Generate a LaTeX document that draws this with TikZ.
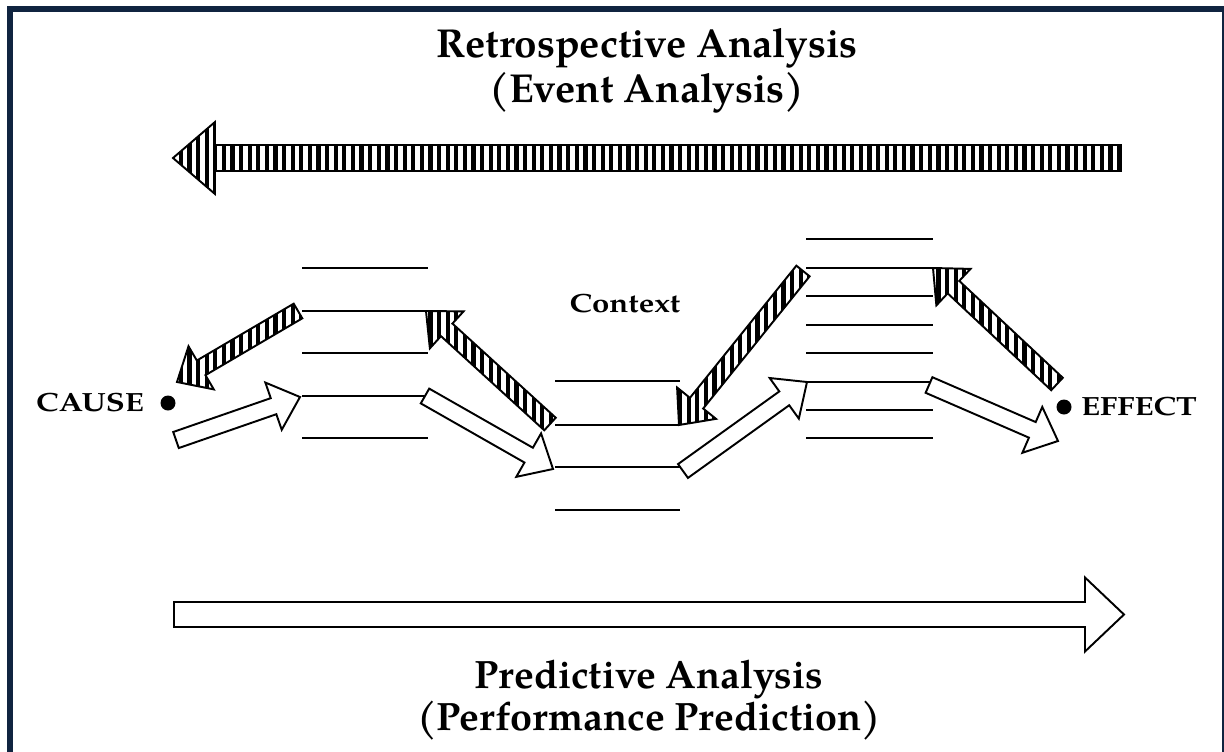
\documentclass[tikz,border=0pt]{standalone}
\usepackage{fontspec}
\setmainfont{TeX Gyre Pagella}
\newfontfamily\labelfont{TeX Gyre Pagella}[FakeStretch=1.18]
\usetikzlibrary{calc,patterns.meta}

% block arrow: [style]{tail}{tip}{shaft half width}{head half width}{head length}, sizes in px
\newcommand{\blockarrow}[6][]{%
  \path (#2) coordinate (ba-tail) (#3) coordinate (ba-tip)
    ($(ba-tip)!#6*0.02cm!(ba-tail)$) coordinate (ba-base);
  \draw[#1] ($(ba-tail)!#4*0.02cm!90:(ba-tip)$)
    -- ($(ba-base)!#4*0.02cm!90:(ba-tip)$)
    -- ($(ba-base)!#5*0.02cm!90:(ba-tip)$)
    -- (ba-tip)
    -- ($(ba-base)!#5*0.02cm!-90:(ba-tip)$)
    -- ($(ba-base)!#4*0.02cm!-90:(ba-tip)$)
    -- ($(ba-tail)!#4*0.02cm!-90:(ba-tip)$)
    -- cycle;}

\begin{document}
\begin{tikzpicture}[x=0.02cm, y=-0.02cm,
  level/.style={line width=1.1pt},
  hollow/.style={draw, line width=1.1pt, fill=white},
  hatched/.style={draw, line width=1.1pt, preaction={fill=white},
    pattern={Lines[angle=90, distance=4.9pt, line width=2.4pt]}},
  label/.style={font=\labelfont\fontsize{15}{17}\selectfont\bfseries},
  heading/.style={align=center, font=\fontsize{23}{25.5}\selectfont\bfseries},
  dot/.style={circle, fill, inner sep=0pt, minimum size=0.3cm}]

% Colors
\definecolor{frame}{RGB}{16,36,64}   % navy frame

\useasboundingbox (0,0) rectangle (1224,751);
\clip (0,0) rectangle (1224,751);

% === Frame ===
\draw[frame, line width=0.12cm] (10,9) rectangle (1225,800);

% === Titles ===
\node[heading] (retro) at (647,71) {Retrospective Analysis\\(Event Analysis)};
\node[heading, font=\fontsize{22.5}{23.8}\selectfont\bfseries] (predict) at (649,700) {Predictive Analysis\\(Performance Prediction)};

% === Big arrows ===
\blockarrow[hatched]{1121,158}{173,158}{13}{36}{42}
\blockarrow[hollow]{174,614.5}{1124,614.5}{12.5}{37}{39}

% === Levels ===
\draw[level] (302,268) -- (428,268);
\draw[level] (302,311) -- (428,311);
\draw[level] (302,353) -- (428,353);
\draw[level] (302,396) -- (428,396);
\draw[level] (302,438) -- (428,438);

\draw[level] (555,381) -- (680,381);
\draw[level] (555,425) -- (680,425);
\draw[level] (555,467) -- (680,467);
\draw[level] (555,510) -- (680,510);

\draw[level] (806,239) -- (933,239);
\draw[level] (806,268) -- (933,268);
\draw[level] (806,296) -- (933,296);
\draw[level] (806,325) -- (933,325);
\draw[level] (806,353) -- (933,353);
\draw[level] (806,382) -- (933,382);
\draw[level] (806,410) -- (933,410);
\draw[level] (806,438) -- (933,438);

\node[label] (context) at (625,304) {Context};

% === Cause and effect ===
\node[dot] (cause-dot) at (168,403) {};
\node[label] (cause) at (90,403) {CAUSE};
\node[dot] (effect-dot) at (1064,407) {};
\node[label] (effect) at (1139,407) {EFFECT};

% === Forward chain ===
\blockarrow[hollow]{176,440}{300,397}{8.5}{25}{28}
\blockarrow[hollow]{425,396}{553,469}{8.5}{25}{28}
\blockarrow[hollow]{683,471}{807,382}{8.5}{25}{28}
\blockarrow[hollow]{929,385}{1058,441}{8.5}{25}{28}

% === Backward chain ===
\blockarrow[hatched]{1057,384}{933,268}{8.5}{25}{28}
\blockarrow[hatched]{803,271}{679,425}{8.5}{25}{28}
\blockarrow[hatched]{550,424}{426,311}{8.5}{25}{28}
\blockarrow[hatched]{298,311}{177,382}{8.5}{25}{28}

\end{tikzpicture}
\end{document}
